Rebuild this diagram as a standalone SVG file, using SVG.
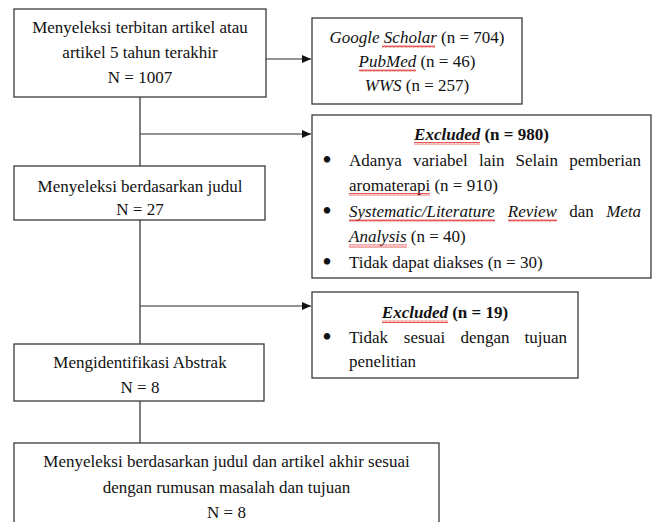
<svg xmlns="http://www.w3.org/2000/svg" width="654" height="522" viewBox="0 0 654 522">
<style>
.box{fill:#fff;stroke:#3a3a3a;stroke-width:1.3}
.ln{fill:none;stroke:#2a2a2a;stroke-width:1.2}
text{font-family:"Liberation Serif","Times New Roman",serif;font-size:17px;fill:#111}
.c{text-anchor:middle}
.i{font-style:italic}
.b{font-weight:bold}
.bu{font-size:27px;text-anchor:middle}
.wv{fill:url(#wave)}
</style>
<defs>
<pattern id="wave" patternUnits="userSpaceOnUse" width="4" height="3">
<path d="M0,2.5 L1,0.5 L2,2.5 L3,0.5 L4,2.5" fill="none" stroke="#e0302c" stroke-width="0.8"/>
</pattern>
<marker id="arr" markerWidth="10" markerHeight="8" refX="9" refY="4" orient="auto" markerUnits="userSpaceOnUse">
<path d="M0,0 L9,4 L0,8 Z" fill="#111"/>
</marker>
</defs>
<g id="connectors">
<line class="ln" x1="140" y1="97" x2="140" y2="166"/>
<line class="ln" x1="140" y1="220" x2="140" y2="344"/>
<line class="ln" x1="140" y1="401" x2="140" y2="443"/>
<line class="ln" x1="266" y1="59" x2="311" y2="59" marker-end="url(#arr)"/>
<line class="ln" x1="140" y1="134" x2="311" y2="134" marker-end="url(#arr)"/>
<line class="ln" x1="140" y1="306" x2="311" y2="306" marker-end="url(#arr)"/>
</g>
<g id="n1">
<rect class="box" x="14" y="9" width="252" height="88"/>
<text class="c" x="140" y="33">Menyeleksi terbitan artikel atau</text>
<text class="c" x="140" y="58">artikel 5 tahun terakhir</text>
<text class="c" x="140" y="83">N = 1007</text>
</g>
<g id="sources">
<rect class="box" x="312" y="18" width="210" height="86"/>
<text class="c" x="417" y="43"><tspan class="i">Google Scholar</tspan> (n = 704)</text>
<text class="c" x="417" y="67"><tspan class="i">PubMed</tspan> (n = 46)</text>
<text class="c" x="417" y="91"><tspan class="i">WWS</tspan> (n = 257)</text>
<rect class="wv" x="382" y="45" width="53" height="3"/>
<rect class="wv" x="359" y="69" width="57" height="3"/>
</g>
<g id="excluded980">
<rect class="box" x="312" y="115" width="339" height="163"/>
<text class="c b" x="481.5" y="140"><tspan class="i">Excluded</tspan> (n = 980)</text>
<rect class="wv" x="414" y="142" width="66" height="3"/>
<text x="327" y="168.5" class="bu">•</text>
<text y="165.5"><tspan x="349">Adanya</tspan><tspan x="413">variabel</tspan><tspan x="479">lain</tspan><tspan x="515.5">Selain</tspan><tspan x="569.2">pemberian</tspan></text>
<text x="349" y="191">aromaterapi (n = 910)</text>
<rect class="wv" x="349" y="193" width="81" height="3"/>
<text x="327" y="219.5" class="bu">•</text>
<text y="216.5"><tspan x="349" class="i">Systematic/Literature</tspan><tspan x="507.8" class="i">Review</tspan><tspan x="569.3">dan</tspan><tspan x="606.2" class="i">Meta</tspan></text>
<rect class="wv" x="349" y="219" width="146" height="3"/>
<rect class="wv" x="508" y="219" width="49" height="3"/>
<text x="349" y="242"><tspan class="i">Analysis</tspan> (n = 40)</text>
<rect class="wv" x="349" y="244.5" width="58" height="3"/>
<text x="327" y="270.5" class="bu">•</text>
<text x="349" y="267.5">Tidak dapat diakses (n = 30)</text>
</g>
<g id="n2">
<rect class="box" x="14" y="166" width="251" height="54"/>
<text class="c" x="140" y="192">Menyeleksi berdasarkan judul</text>
<text class="c" x="140" y="215">N = 27</text>
</g>
<g id="excluded19">
<rect class="box" x="312" y="292" width="266" height="86"/>
<text class="c b" x="445" y="318"><tspan class="i">Excluded</tspan> (n = 19)</text>
<rect class="wv" x="382" y="320" width="66" height="3"/>
<text x="327" y="346" class="bu">•</text>
<text y="343"><tspan x="349">Tidak</tspan><tspan x="403.8">sesuai</tspan><tspan x="460.4">dengan</tspan><tspan x="524.6">tujuan</tspan></text>
<text x="349" y="367">penelitian</text>
</g>
<g id="n3">
<rect class="box" x="14" y="344" width="250" height="57"/>
<text class="c" x="140" y="368">Mengidentifikasi Abstrak</text>
<text class="c" x="140" y="393">N = 8</text>
</g>
<g id="n4">
<rect class="box" x="14" y="443" width="425" height="90"/>
<text class="c" x="226.5" y="467">Menyeleksi berdasarkan judul dan artikel akhir sesuai</text>
<text class="c" x="226.5" y="492.5">dengan rumusan masalah dan tujuan</text>
<text class="c" x="226.5" y="518">N = 8</text>
</g>
</svg>
